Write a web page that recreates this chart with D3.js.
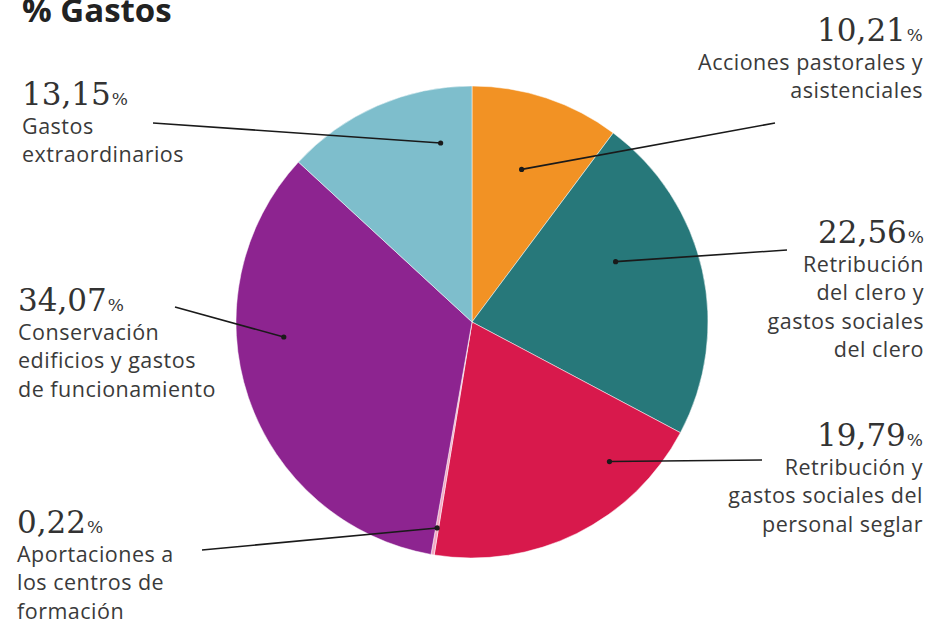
<!DOCTYPE html>
<html><head><meta charset="utf-8">
<script src="https://cdn.jsdelivr.net/npm/d3@7"></script>
<style>
html,body{margin:0;padding:0;background:#fff;}
svg{display:block;}
</style></head>
<body>
<svg id="chart" width="932" height="622"></svg>
<script>
// ---- data ----
const categories = [
  "Acciones pastorales y asistenciales",
  "Retribución del clero y gastos sociales del clero",
  "Retribución y gastos sociales del personal seglar",
  "Aportaciones a los centros de formación",
  "Conservación edificios y gastos de funcionamiento",
  "Gastos extraordinarios"
];
const values = [10.21, 22.56, 19.79, 0.22, 34.07, 13.15];
const valueLabels = ["10,21", "22,56", "19,79", "0,22", "34,07", "13,15"];
const labelLines = [
  ["Acciones pastorales y", "asistenciales"],
  ["Retribución", "del clero y", "gastos sociales", "del clero"],
  ["Retribución y", "gastos sociales del", "personal seglar"],
  ["Aportaciones a", "los centros de", "formación"],
  ["Conservación", "edificios y gastos", "de funcionamiento"],
  ["Gastos", "extraordinarios"]
];
const colors = ["#F29224", "#27787A", "#D8194C", "#F3A6C2", "#8D2490", "#7EBECC"];

// ---- layout (annotation placement) ----
const layout = [
  {tx: 923, ty: 41, anchor: "end", lx: 775, ly: 123, t: 0.49, rf: 0.68},
  {tx: 924, ty: 243, anchor: "end", lx: 787, ly: 250, t: 0.375, rf: 0.66},
  {tx: 923, ty: 446, anchor: "end", lx: 762, ly: 460, t: 0.245, rf: 0.83},
  {tx: 17, ty: 533, anchor: "start", lx: 202, ly: 550, t: 0.5, rf: 0.885},
  {tx: 18, ty: 311, anchor: "start", lx: 175, ly: 307, t: 0.615, rf: 0.80},
  {tx: 22, ty: 105, anchor: "start", lx: 153, ly: 123, t: 0.79, rf: 0.77}
];

const svg = d3.select("#chart");
const cx = 472, cy = 322, R = 236;

svg.append("text").attr("x", 22).attr("y", 22)
  .attr("font-family", "'Open Sans', sans-serif").attr("font-weight", 700)
  .attr("font-size", 33).attr("fill", "#222").text("% Gastos");

const pie = d3.pie().sort(null).value(d => d).startAngle(0).endAngle(2 * Math.PI);
const arcs = pie(values);
const arc = d3.arc().innerRadius(0).outerRadius(R);

const g = svg.append("g").attr("transform", `translate(${cx},${cy})`);
g.selectAll("path.slice").data(arcs).enter().append("path")
  .attr("class", "slice")
  .attr("d", arc)
  .attr("fill", (d, i) => colors[i])
  .attr("stroke", "#fff").attr("stroke-width", 0.7).attr("stroke-opacity", 0.7);

// leader lines + dots
arcs.forEach((a, i) => {
  const L = layout[i];
  const ang = a.startAngle + L.t * (a.endAngle - a.startAngle);
  const px = cx + R * L.rf * Math.sin(ang);
  const py = cy - R * L.rf * Math.cos(ang);
  svg.append("line").attr("x1", L.lx).attr("y1", L.ly).attr("x2", px).attr("y2", py)
    .attr("stroke", "#1a1a1a").attr("stroke-width", 1.6);
  svg.append("circle").attr("cx", px).attr("cy", py).attr("r", 2.6).attr("fill", "#1a1a1a");
});

// labels
layout.forEach((L, i) => {
  const t = svg.append("text").attr("x", L.tx).attr("y", L.ty).attr("text-anchor", L.anchor)
    .attr("font-family", "'DejaVu Serif', serif").attr("fill", "#333");
  t.append("tspan").attr("font-size", 31).text(valueLabels[i]);
  t.append("tspan").attr("font-size", 17).attr("dx", 1).text("%");
  labelLines[i].forEach((line, j) => {
    svg.append("text").attr("x", L.tx).attr("y", L.ty + 28.5 * (j + 1))
      .attr("text-anchor", L.anchor)
      .attr("font-family", "'Open Sans', sans-serif").attr("font-size", 21.5)
      .attr("letter-spacing", 0.5)
      .attr("fill", "#3a3a3a").text(line);
  });
});
</script>
</body></html>
